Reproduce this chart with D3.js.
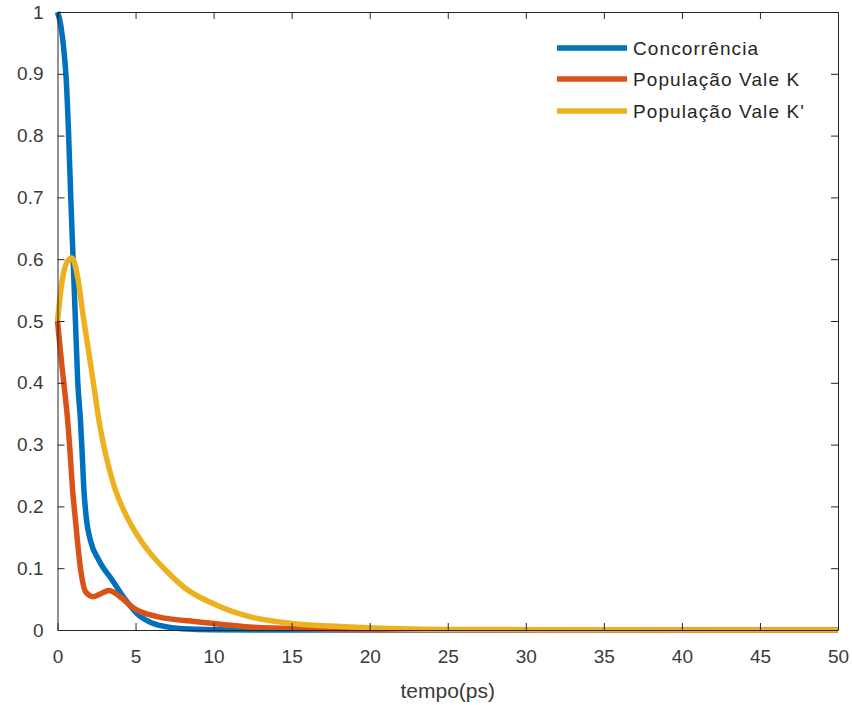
<!DOCTYPE html>
<html>
<head>
<meta charset="utf-8">
<script src="https://cdn.jsdelivr.net/npm/d3@7"></script>
<style>
  body { margin: 0; background: #fff; }
  svg { display: block; }
  text { font-family: "Liberation Sans", Arial, sans-serif; }
</style>
</head>
<body>
<svg id="chart" width="852" height="705"></svg>
<script>
// series: time (ps) and value
const tempo_conc = [0, 0.2, 0.4, 0.55, 0.7, 0.85, 1.0, 1.15, 1.3, 1.47, 1.58, 1.68, 1.86, 2.1, 2.65, 3.5, 4.35, 5.3, 6.1, 7, 8, 10, 15, 50];
const concorrencia = [1, 0.98, 0.94, 0.895, 0.81, 0.7, 0.6, 0.5, 0.4, 0.34, 0.286, 0.232, 0.178, 0.146, 0.113, 0.081, 0.049, 0.022, 0.011, 0.005, 0.002, 0.0005, 0, 0];

const tempo_k = [0, 0.27, 0.48, 0.63, 0.8, 0.95, 1.15, 1.47, 1.8, 2.3, 2.8, 3.3, 4.0, 4.9, 6.4, 9.1, 12.3, 16, 20, 50];
const valeK = [0.5, 0.43, 0.382, 0.345, 0.29, 0.232, 0.178, 0.1, 0.062, 0.054, 0.059, 0.064, 0.054, 0.035, 0.0216, 0.013, 0.005, 0.002, 0.0005, 0];

const tempo_k2 = [0, 0.27, 0.6, 0.92, 1.3, 1.65, 2.0, 2.3, 2.65, 3.07, 3.6, 4.45, 5.3, 5.95, 7, 8.06, 10.2, 12.3, 14.9, 18.7, 25, 50];
const valeK2 = [0.5, 0.56, 0.595, 0.602, 0.57, 0.507, 0.45, 0.4, 0.34, 0.286, 0.235, 0.183, 0.146, 0.124, 0.095, 0.07, 0.04, 0.0216, 0.011, 0.005, 0.001, 0];

const legendLabels = ["Concorrência", "População Vale K", "População Vale K'"];
const colors = ["#0072BD", "#D95319", "#EDB120"];
const xTicks = d3.range(0, 51, 5);
const yTicks = d3.range(0, 11).map(d => d / 10);

const margin = {left: 57.5, right: 14, top: 12, bottom: 75};
const width = 852, height = 705;
const svg = d3.select("#chart");

const x = d3.scaleLinear().domain([0, 50]).range([margin.left, width - margin.right]);
const y = d3.scaleLinear().domain([0, 1]).range([height - margin.bottom, margin.top]);

const series = [
  tempo_conc.map((t, i) => [t, concorrencia[i]]),
  tempo_k.map((t, i) => [t, valeK[i]]),
  tempo_k2.map((t, i) => [t, valeK2[i]])
];

const line = d3.line()
  .x(d => x(d[0]))
  .y(d => y(d[1]))
  .curve(d3.curveMonotoneX);

svg.selectAll(".serie")
  .data(series)
  .enter()
  .append("path")
  .attr("class", "serie")
  .attr("d", line)
  .attr("fill", "none")
  .attr("stroke", (d, i) => colors[i])
  .attr("stroke-width", 5.5)
  .attr("stroke-linejoin", "round");

// axes, ticks pointing inward on all sides
const axisColor = "#262626";
const gX = svg.append("g")
  .attr("transform", "translate(0," + y(0) + ")")
  .call(d3.axisBottom(x).tickValues(xTicks).tickSizeInner(-7).tickSizeOuter(0).tickPadding(20));
const gXt = svg.append("g")
  .attr("transform", "translate(0," + y(1) + ")")
  .call(d3.axisTop(x).tickValues(xTicks).tickSizeInner(-7).tickSizeOuter(0).tickFormat(""));
const gY = svg.append("g")
  .attr("transform", "translate(" + x(0) + ",0)")
  .call(d3.axisLeft(y).tickValues(yTicks).tickSizeInner(-7).tickSizeOuter(0).tickPadding(14).tickFormat(d3.format("")));
const gYr = svg.append("g")
  .attr("transform", "translate(" + x(50) + ",0)")
  .call(d3.axisRight(y).tickValues(yTicks).tickSizeInner(-7).tickSizeOuter(0).tickFormat(""));

[gX, gXt, gY, gYr].forEach(g => {
  g.select(".domain").attr("stroke", axisColor).attr("stroke-width", 1);
  g.selectAll(".tick line").attr("stroke", axisColor);
  g.selectAll(".tick text")
    .attr("font-size", "19px")
    .attr("fill", "#3a3a3a")
    .style("font-family", "'Liberation Sans', Arial, sans-serif");
});

svg.append("text")
  .attr("x", x(25))
  .attr("y", 698)
  .attr("text-anchor", "middle")
  .attr("font-size", "21px")
  .attr("fill", "#3a3a3a")
  .text("tempo(ps)");

// legend (no box), text clipped at right like the original
svg.append("clipPath").attr("id", "legclip")
  .append("rect").attr("x", 540).attr("y", 20).attr("width", 265).attr("height", 120);

const legendY = [48, 79, 111];
const leg = svg.append("g").attr("clip-path", "url(#legclip)");
legendLabels.forEach((lab, i) => {
  leg.append("line")
    .attr("x1", 557).attr("x2", 627)
    .attr("y1", legendY[i]).attr("y2", legendY[i])
    .attr("stroke", colors[i])
    .attr("stroke-width", 5.5);
  leg.append("text")
    .attr("x", 633)
    .attr("y", legendY[i] + 7)
    .attr("font-size", "19px")
    .attr("letter-spacing", "1.1px")
    .attr("fill", "#262626")
    .text(lab);
});
</script>
</body>
</html>
